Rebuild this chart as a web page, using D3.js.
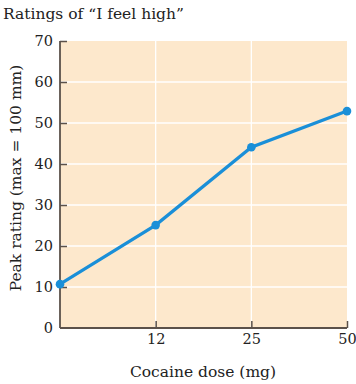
<!DOCTYPE html>
<html><head><meta charset="utf-8">
<script src="https://cdn.jsdelivr.net/npm/d3@7"></script>
<style>body{margin:0;background:#fff}</style>
</head><body>
<script>
const doses = ["0", "12", "25", "50"];
const doseLabels = ["", "12", "25", "50"];
const ratings = [10.7, 25.1, 44.1, 52.9];
const yTicks = [0, 10, 20, 30, 40, 50, 60, 70];
const title = "Ratings of “I feel high”";
const xTitle = "Cocaine dose (mg)";
const yTitle = "Peak rating (max = 100 mm)";

const W = 356, H = 384;
const m = {left: 60, right: 9, top: 41, bottom: 56};
const font = "'DejaVu Serif', 'Liberation Serif', serif";
const axisColor = "#5b514a";

const svg = d3.select("body").append("svg").attr("width", W).attr("height", H);
const x = d3.scalePoint().domain(doses).range([m.left, W - m.right]);
const y = d3.scaleLinear().domain([0, 70]).range([H - m.bottom, m.top]);

svg.append("rect").attr("x", m.left).attr("y", m.top)
  .attr("width", W - m.right - m.left).attr("height", H - m.bottom - m.top)
  .attr("fill", "#fde8cc");

// grid
svg.append("g").selectAll("line").data(yTicks.filter(d => d > 0 && d < 70)).join("line")
  .attr("x1", m.left).attr("x2", W - m.right).attr("y1", d => y(d)).attr("y2", d => y(d))
  .attr("stroke", "#fff").attr("stroke-width", 1.3);
svg.append("g").selectAll("line").data(doses.slice(1, 3)).join("line")
  .attr("x1", d => x(d)).attr("x2", d => x(d)).attr("y1", m.top).attr("y2", H - m.bottom)
  .attr("stroke", "#fff").attr("stroke-width", 1.3);

// axes
const yAxis = svg.append("g").attr("transform", `translate(${m.left},0)`)
  .call(d3.axisLeft(y).tickValues(yTicks).tickSize(-7).tickPadding(7));
const xAxis = svg.append("g").attr("transform", `translate(0,${H - m.bottom})`)
  .call(d3.axisBottom(x).tickFormat((d, i) => doseLabels[i]).tickSize(-7).tickPadding(6));
[yAxis, xAxis].forEach(g => {
  g.select(".domain").attr("stroke", axisColor).attr("stroke-width", 1.8);
  g.selectAll(".tick line").attr("stroke", axisColor).attr("stroke-width", 1.5);
  g.selectAll("text").attr("font-family", font).attr("font-size", 14.5).attr("fill", "#222");
});
xAxis.selectAll(".tick").filter((d, i) => i === 0).select("line").remove();
yAxis.selectAll(".tick").filter(d => d === 0).select("line").remove();
yAxis.select(".domain").attr("d", `M0,${m.top}V${H - m.bottom}`);
xAxis.select(".domain").attr("d", `M${m.left},0H${W - m.right}`);

// line
svg.append("path").datum(doses)
  .attr("d", d3.line().x(d => x(d)).y((d, i) => y(ratings[i])))
  .attr("fill", "none").attr("stroke", "#1a8fd8").attr("stroke-width", 3.2);
svg.append("g").selectAll("circle").data(doses).join("circle")
  .attr("cx", d => x(d)).attr("cy", (d, i) => y(ratings[i])).attr("r", 4.3)
  .attr("fill", "#1a8fd8");

// titles
svg.append("text").attr("x", 3).attr("y", 19).text(title)
  .attr("font-family", font).attr("font-size", 15.5).attr("fill", "#222");
svg.append("text").attr("x", 203).attr("y", 377).attr("text-anchor", "middle")
  .text(xTitle).attr("font-family", font).attr("font-size", 15.5).attr("fill", "#222");
svg.append("text").attr("transform", `translate(21,178) rotate(-90)`)
  .attr("text-anchor", "middle").text(yTitle)
  .attr("font-family", font).attr("font-size", 15.5).attr("fill", "#222");
</script>
</body></html>
